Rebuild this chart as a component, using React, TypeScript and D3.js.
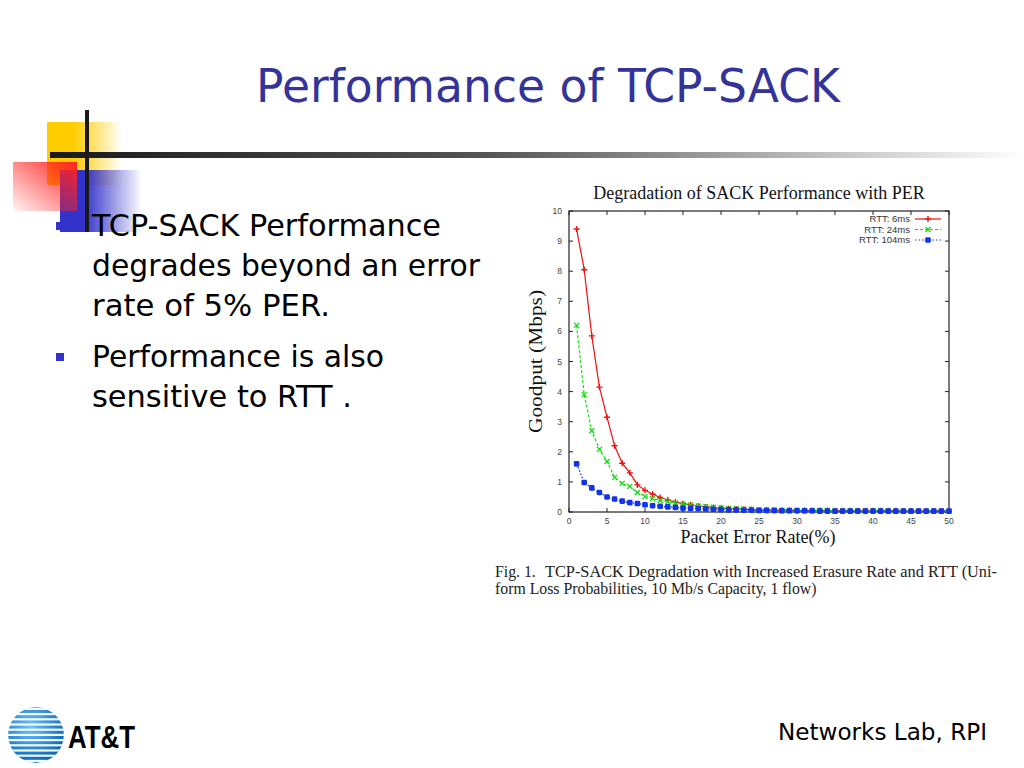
import React from 'react';
import * as d3 from 'd3';

// Packet error rate (%) on the x axis
const per = d3.range(1, 51);

// Goodput (Mbps)
const rtt6 = [9.4, 8.05, 5.85, 4.15, 3.15, 2.2, 1.62, 1.3, 0.9, 0.72,
  0.6, 0.48, 0.4, 0.33, 0.28, 0.24, 0.2, 0.17, 0.15, 0.13,
  0.11, 0.1, 0.09, 0.08, 0.07, 0.07, 0.06, 0.06, 0.06, 0.05,
  0.05, 0.05, 0.05, 0.05, 0.04, 0.04, 0.04, 0.04, 0.04, 0.04,
  0.04, 0.04, 0.04, 0.03, 0.03, 0.03, 0.03, 0.03, 0.03, 0.03];
const rtt24 = [6.2, 3.9, 2.7, 2.08, 1.68, 1.15, 0.95, 0.85, 0.65, 0.52,
  0.45, 0.38, 0.33, 0.3, 0.26, 0.23, 0.2, 0.18, 0.16, 0.14,
  0.12, 0.11, 0.1, 0.09, 0.08, 0.07, 0.07, 0.06, 0.06, 0.06,
  0.05, 0.05, 0.05, 0.05, 0.04, 0.04, 0.04, 0.04, 0.04, 0.04,
  0.04, 0.04, 0.03, 0.03, 0.03, 0.03, 0.03, 0.03, 0.03, 0.03];
const rtt104 = [1.6, 0.98, 0.8, 0.65, 0.5, 0.43, 0.36, 0.31, 0.28, 0.24,
  0.21, 0.19, 0.17, 0.15, 0.13, 0.12, 0.11, 0.1, 0.09, 0.08,
  0.07, 0.07, 0.06, 0.06, 0.05, 0.05, 0.05, 0.04, 0.04, 0.04,
  0.04, 0.04, 0.03, 0.03, 0.03, 0.03, 0.03, 0.03, 0.03, 0.03,
  0.03, 0.03, 0.03, 0.03, 0.03, 0.03, 0.03, 0.03, 0.03, 0.03];

const xTicks = [0, 5, 10, 15, 20, 25, 30, 35, 40, 45, 50];
const yTicks = [0, 1, 2, 3, 4, 5, 6, 7, 8, 9, 10];

const seriesNames = ['RTT: 6ms', 'RTT: 24ms', 'RTT: 104ms'];
const seriesValues = [rtt6, rtt24, rtt104];
const seriesColors = ['#ee1111', '#11dd11', '#1133ee'];
const seriesDash = ['none', '3,2', '1.5,2'];
const seriesMarker = ['plus', 'cross', 'dot'];

const bulletLines = [
  ['TCP-SACK Performance', 'degrades beyond an error', 'rate of 5% PER.'],
  ['Performance is also', 'sensitive to RTT .'],
];
const bulletWidths = [[349, 388, 238], [292, 260]];

const Marker = ({ kind, x, y, color }: { kind: string; x: number; y: number; color: string }) => {
  if (kind === 'plus') {
    return <path d={`M${x - 3},${y}H${x + 3}M${x},${y - 3}V${y + 3}`} stroke={color} strokeWidth={1.4} />;
  }
  if (kind === 'cross') {
    return <path d={`M${x - 2.5},${y - 2.5}L${x + 2.5},${y + 2.5}M${x - 2.5},${y + 2.5}L${x + 2.5},${y - 2.5}`} stroke={color} strokeWidth={1.3} />;
  }
  return <rect x={x - 2.8} y={y - 2.8} width={5.6} height={5.6} rx={1.4} fill={color} />;
};

export default function App() {
  const left = 569, right = 949, top = 211, bottom = 512;
  const x = d3.scaleLinear().domain([0, 50]).range([left, right]);
  const y = d3.scaleLinear().domain([0, 10]).range([bottom, top]);
  const line = d3.line<number>().x((_, i) => x(per[i])).y(d => y(d));

  return (
    <svg width={1024} height={768} style={{ position: 'fixed', left: 0, top: 0, background: '#fff' }}>
      <defs>
        <linearGradient id="hline" x1="0" x2="1" y1="0" y2="0">
          <stop offset="0" stopColor="#1a1a1a" />
          <stop offset="0.45" stopColor="#555" />
          <stop offset="1" stopColor="#fff" />
        </linearGradient>
        <linearGradient id="yel" x1="0" x2="1" y1="0" y2="0">
          <stop offset="0.35" stopColor="#ffcc00" />
          <stop offset="1" stopColor="#ffcc00" stopOpacity="0" />
        </linearGradient>
        <linearGradient id="blu" x1="0" x2="1" y1="0" y2="0">
          <stop offset="0.3" stopColor="#3333cc" />
          <stop offset="1" stopColor="#3333cc" stopOpacity="0" />
        </linearGradient>
        <linearGradient id="red" x1="1" x2="0" y1="0" y2="1">
          <stop offset="0" stopColor="#ff2222" />
          <stop offset="1" stopColor="#ff2222" stopOpacity="0.05" />
        </linearGradient>
        <radialGradient id="globe" cx="0.4" cy="0.35" r="0.7">
          <stop offset="0" stopColor="#6fc3ff" />
          <stop offset="1" stopColor="#0060b0" />
        </radialGradient>
        <clipPath id="globeClip">
          <circle cx={36} cy={735} r={28} />
        </clipPath>
      </defs>

      {/* decoration */}
      <rect x={47} y={122} width={75} height={63} fill="url(#yel)" />
      <rect x={60} y={170} width={82} height={62} fill="url(#blu)" />
      <rect x={13} y={162} width={64} height={49} fill="url(#red)" />
      <rect x={50} y={152} width={974} height={6} fill="url(#hline)" />
      <rect x={85} y={110} width={4} height={122} fill="#1a1a1a" />

      <text x={548} y={102} textAnchor="middle" fontFamily="DejaVu Sans" fontSize={46} fill="#333399"
        textLength={584} lengthAdjust="spacingAndGlyphs">Performance of TCP-SACK</text>

      {/* bullets */}
      {bulletLines.map((lines, bi) => {
        const baseY = bi === 0 ? 236 : 367;
        return (
          <g key={bi}>
            <rect x={56} y={baseY - 14} width={8} height={8} fill="#3333cc" />
            {lines.map((t, li) => (
              <text key={li} x={92} y={baseY + li * 40} fontFamily="DejaVu Sans" fontSize={30} fill="#000"
                textLength={bulletWidths[bi][li]} lengthAdjust="spacingAndGlyphs">{t}</text>
            ))}
          </g>
        );
      })}

      {/* chart */}
      <text x={759} y={199} textAnchor="middle" fontFamily="Liberation Serif" fontSize={18} fill="#111">Degradation of SACK Performance with PER</text>
      <rect x={left} y={top} width={right - left} height={bottom - top} fill="none" stroke="#222" strokeWidth={1.2} />
      {xTicks.map(t => (
        <g key={'x' + t}>
          <line x1={x(t)} x2={x(t)} y1={bottom} y2={bottom - 4} stroke="#222" />
          <line x1={x(t)} x2={x(t)} y1={top} y2={top + 4} stroke="#222" />
          <text x={x(t)} y={523.5} textAnchor="middle" fontFamily="Liberation Sans" fontSize={8.5} fill="#444">{t}</text>
        </g>
      ))}
      {yTicks.map(t => (
        <g key={'y' + t}>
          <line x1={left} x2={left + 4} y1={y(t)} y2={y(t)} stroke="#222" />
          <line x1={right} x2={right - 4} y1={y(t)} y2={y(t)} stroke="#222" />
          <text x={562} y={y(t) + 3} textAnchor="end" fontFamily="Liberation Sans" fontSize={8.5} fill="#444">{t}</text>
        </g>
      ))}
      <text transform={`translate(542,${(top + bottom) / 2}) rotate(-90)`} textAnchor="middle"
        fontFamily="Liberation Serif" fontSize={19} fill="#111" textLength={143} lengthAdjust="spacingAndGlyphs">Goodput (Mbps)</text>
      <text x={758} y={543} textAnchor="middle" fontFamily="Liberation Serif" fontSize={18} fill="#111">Packet Error Rate(%)</text>

      {seriesValues.map((vals, si) => (
        <g key={si}>
          <path d={line(vals) || ''} fill="none" stroke={seriesColors[si]} strokeWidth={1.2} strokeDasharray={seriesDash[si]} />
          {vals.map((v, i) => (
            <Marker key={i} kind={seriesMarker[si]} x={x(per[i])} y={y(v)} color={seriesColors[si]} />
          ))}
        </g>
      ))}

      {/* legend */}
      {seriesNames.map((n, i) => (
        <g key={n}>
          <text x={910} y={222 + i * 10.5} textAnchor="end" fontFamily="Liberation Sans" fontSize={9.5} fill="#333">{n}</text>
          <line x1={915} x2={941} y1={219 + i * 10.5} y2={219 + i * 10.5} stroke={seriesColors[i]} strokeWidth={1.2} strokeDasharray={seriesDash[i]} />
          <Marker kind={seriesMarker[i]} x={928} y={219 + i * 10.5} color={seriesColors[i]} />
        </g>
      ))}

      {/* caption */}
      <text x={495} y={577} fontFamily="Liberation Serif" fontSize={15.8} fill="#222">Fig. 1.</text>
      <text x={545} y={577} fontFamily="Liberation Serif" fontSize={15.8} fill="#222" textLength={452} lengthAdjust="spacingAndGlyphs">TCP-SACK Degradation with Increased Erasure Rate and RTT (Uni-</text>
      <text x={495} y={594} fontFamily="Liberation Serif" fontSize={15.8} fill="#222">form Loss Probabilities, 10 Mb/s Capacity, 1 flow)</text>

      {/* footer */}
      <g clipPath="url(#globeClip)">
        <circle cx={36} cy={735} r={28} fill="url(#globe)" />
        {d3.range(-5, 6).map(k => (
          <rect key={k} x={0} y={735 + k * 5.2 - 1.2} width={72} height={2.2} fill="#fff" opacity={0.95} />
        ))}
      </g>
      <text x={68} y={748} fontFamily="Liberation Sans" fontWeight="bold" fontSize={32} fill="#000"
        textLength={67} lengthAdjust="spacingAndGlyphs">AT&amp;T</text>
      <text x={987} y={740} textAnchor="end" fontFamily="DejaVu Sans" fontSize={23} fill="#000"
        textLength={209} lengthAdjust="spacingAndGlyphs">Networks Lab, RPI</text>
    </svg>
  );
}
